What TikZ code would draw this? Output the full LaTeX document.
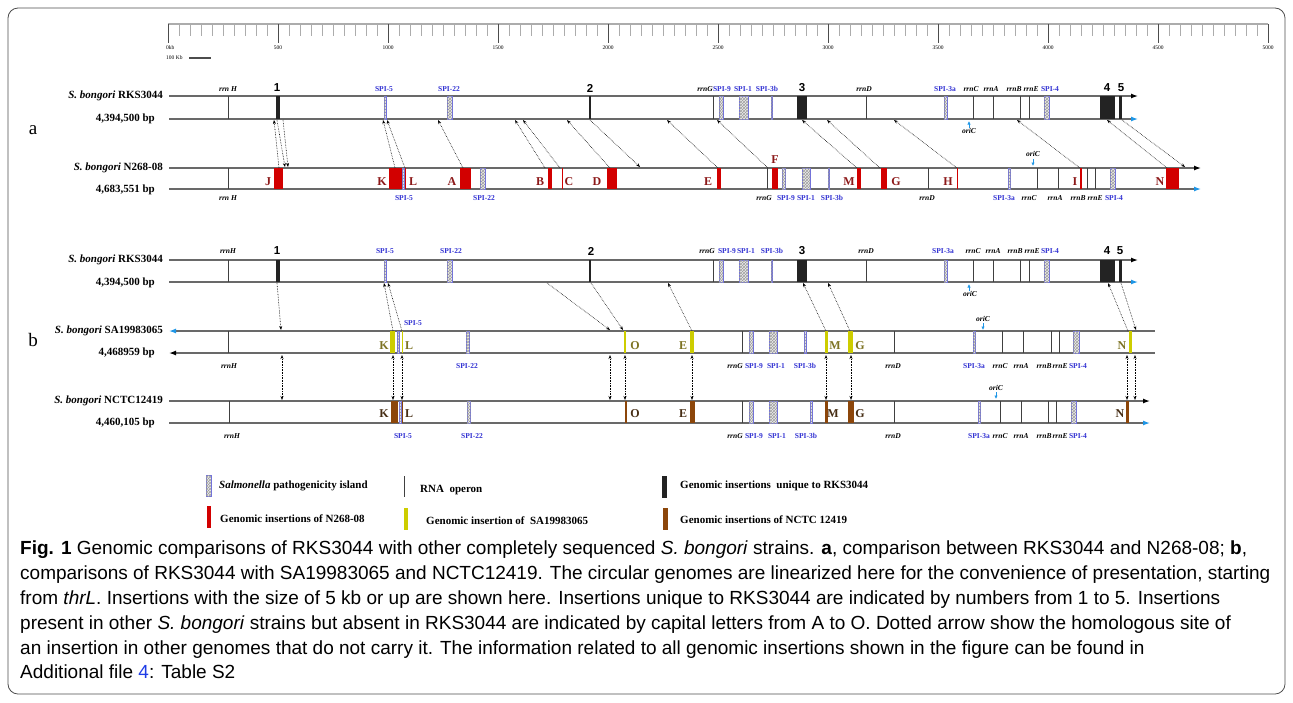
\documentclass[tikz,border=0pt]{standalone}
\usepackage{fontspec}
\setmainfont{Liberation Serif}
\setsansfont{Liberation Sans}
\newfontfamily\capfont{Liberation Sans}
\usetikzlibrary{arrows.meta,positioning,patterns}

\definecolor{trackgray}{RGB}{105,105,105}
\definecolor{oriblue}{RGB}{30,150,230}
\definecolor{spiblue}{RGB}{50,50,210}
\definecolor{insred}{RGB}{210,0,0}
\definecolor{letred}{RGB}{140,25,25}
\definecolor{insyellow}{RGB}{205,205,0}
\definecolor{letyellow}{RGB}{125,115,35}
\definecolor{insbrown}{RGB}{140,70,10}
\definecolor{letbrown}{RGB}{70,45,20}
\definecolor{insblack}{RGB}{35,35,35}
\definecolor{linkblue}{RGB}{30,60,230}

\begin{document}
\begin{tikzpicture}[x=1pt, y=-1pt,
  genome/.style={draw=trackgray, line width=1.3pt},
  rrn/.style={draw=black!75, line width=0.9pt},
  spi/.style={draw=spiblue!70, fill=gray!15, postaction={pattern=crosshatch, pattern color=gray!75}, line width=0.5pt},
  rksins/.style={fill=insblack},
  nins/.style={fill=insred},
  sains/.style={fill=insyellow},
  ncins/.style={fill=insbrown},
  rrnlab/.style={font=\fontsize{7.5}{8}\selectfont\bfseries\itshape, inner sep=0pt},
  spilab/.style={font=\fontsize{7.5}{8}\selectfont\bfseries, text=spiblue, inner sep=0pt},
  numlab/.style={font=\fontsize{11.5}{12}\selectfont\sffamily\bfseries, inner sep=0pt},
  letlab/.style={font=\fontsize{12}{12}\selectfont\bfseries, inner sep=0pt},
  strain/.style={font=\fontsize{11}{12}\selectfont\bfseries, anchor=east, inner sep=0pt},
  panel/.style={font=\fontsize{19}{20}\selectfont, inner sep=0pt},
  scalelab/.style={font=\fontsize{5.5}{6}\selectfont, inner sep=0pt},
  homarrow/.style={densely dotted, line width=0.6pt, -{Stealth[length=4pt,width=3pt]}},
  homboth/.style={densely dotted, line width=0.6pt, {Stealth[length=4pt,width=3pt]}-{Stealth[length=4pt,width=3pt]}},
  oriarrow/.style={draw=oriblue, line width=0.8pt, -{Latex[length=3.5pt,width=3.5pt]}},
  legtext/.style={font=\fontsize{11}{12}\selectfont\bfseries, anchor=west, inner sep=0pt},
]
\useasboundingbox (0,0) rectangle (1293,702);
\draw[gray!60!black, line width=0.8pt, rounded corners=10pt] (8,8) rectangle (1285,694);

% scale
\draw[gray!65, line width=1.5pt] (168,24) -- (1268,24);
\foreach \k in {0,...,100} \draw[gray!65, line width=0.6pt] ({168+11*\k},24) -- ({168+11*\k},36);
\foreach \k in {0,...,10} \draw[black!70, line width=0.8pt] ({168+110*\k},24) -- ({168+110*\k},43);
\node[scalelab, anchor=west] (sc0) at (166,48) {0kb};
\foreach \k [evaluate=\k as \v using int(500*\k)] in {1,...,10}
  \node[scalelab] (sc\k) at ({168+110*\k},48) {\v};
\node[scalelab, anchor=west] (kb100) at (166,58) {100 Kb};
\draw[black!70, line width=1.2pt] (189,58) -- (211,58);

% RKS3044 tracks
\foreach \yt/\yb in {96/119, 260/282} {
  \draw[genome, -{Latex[length=7pt,width=5pt,color=black]}] (169,\yt) -- (1138,\yt);
  \draw[genome, -{Latex[length=7pt,width=5pt,color=oriblue]}] (169,\yb) -- (1138,\yb);
  \foreach \x in {228,713,866,973,993,1020,1029} \draw[rrn] (\x,\yt) -- (\x,\yb);
  \foreach \xa/\xb in {384/385.8,447/452,719/723,739/748,771/772.5,944/947,1044/1049}
    \draw[spi] (\xa,\yt) rectangle (\xb,\yb);
  \foreach \xa/\xb in {276/279.5,589.3/591.3,797/807,1100/1115,1119/1121.8}
    \fill[rksins] (\xa,\yt) rectangle (\xb,\yb);
  \draw[oriarrow] (969,{\yb+9}) -- (969,{\yb+2});
}

% panel a
\node[panel] (pa) at (33,130) {a};
\node[strain] (rksA) at (163,96) {\textit{S. bongori} RKS3044};
\node[strain] (rksAbp) at (155,119) {4,394,500 bp};
\node[strain] (nA) at (163,168) {\textit{S. bongori} N268-08};
\node[strain] (nAbp) at (155,190) {4,683,551 bp};

\foreach \x/\t [count=\i] in {228/{rrn H},705/rrnG,864/rrnD,971/rrnC,991/rrnA,1014/rrnB,1031/rrnE}
  \node[rrnlab] (aRrn\i) at (\x,89) {\t};
\foreach \x/\t [count=\i] in {384/SPI-5,449/SPI-22,722/SPI-9,743/SPI-1,767/SPI-3b,945/SPI-3a,1050/SPI-4}
  \node[spilab] (aSpi\i) at (\x,89) {\t};
\foreach \x/\t in {277/1,590/2,802/3,1107/4,1121/5}
  \node[numlab] (aNum\t) at (\x,88) {\t};
\node[rrnlab] (aOri) at (969,131) {oriC};

% N268-08
\draw[genome, -{Latex[length=7pt,width=5pt,color=black]}] (169,168) -- (1201,168);
\draw[genome, -{Latex[length=7pt,width=5pt,color=oriblue]}] (169,189) -- (1201,189);
\foreach \x in {228,767,928,1037,1058,1087,1095} \draw[rrn] (\x,168) -- (\x,189);
\foreach \xa/\xb in {402.5/404,480/485,782/785.5,802/810,828/829.5,1008.5/1010.5,1110/1115}
  \draw[spi] (\xa,168) rectangle (\xb,189);
\foreach \xa/\xb in {274/283,389/402,404.5/406.3,460/471,548/552,561.5/563,607/617,717/721,772/778,857/861,881/887,956.5/958.3,1080/1082,1166/1179}
  \fill[nins] (\xa,168) rectangle (\xb,189);
\foreach \x/\t in {268/J,382/K,413/L,452/A,540/B,569/C,597/D,708/E,849/M,896/G,948/H,1075/I,1160/N}
  \node[letlab, text=letred] (nLet\t) at (\x,182) {\t};
\node[letlab, text=letred] (nLetF) at (775,160) {F};
\foreach \x/\t [count=\i] in {228/{rrn H},764/rrnG,927/rrnD,1029/rrnC,1055/rrnA,1078/rrnB,1095/rrnE}
  \node[rrnlab] (nRrn\i) at (\x,198) {\t};
\foreach \x/\t [count=\i] in {404/SPI-5,484/SPI-22,786/SPI-9,806/SPI-1,832/SPI-3b,1004/SPI-3a,1114/SPI-4}
  \node[spilab] (nSpi\i) at (\x,198) {\t};
\node[rrnlab] (nOri) at (1033,154) {oriC};
\draw[oriarrow] (1033,159) -- (1033,166);

% homologous sites, panel a
\foreach \xs/\xe [count=\i] in {279/274,395/383,405/387,463/438,545/515,560/523,610/567,718/667,768/717,857/802,880/827,957/894,1080/1017,1167/1107} {
  \coordinate (aLow\i) at (\xs,168);
  \coordinate (aUp\i) at (\xe,120);
  \draw[homarrow] (aLow\i) -- (aUp\i);
}
\foreach \xs/\xe [count=\i] in {277/285,283/288,590/640,1122/1185} {
  \coordinate (aFrom\i) at (\xs,120);
  \coordinate (aTo\i) at (\xe,167);
  \draw[homarrow] (aFrom\i) -- (aTo\i);
}

% panel b
\node[panel] (pb) at (33,340) {b};
\node[strain] (rksB) at (163,260) {\textit{S. bongori} RKS3044};
\node[strain] (rksBbp) at (155,283) {4,394,500 bp};
\node[strain] (saB) at (163,331) {\textit{S. bongori} SA19983065};
\node[strain] (saBbp) at (155,353) {4,468959 bp};
\node[strain] (ncB) at (163,401) {\textit{S. bongori} NCTC12419};
\node[strain] (ncBbp) at (155,423) {4,460,105 bp};

\foreach \x/\t [count=\i] in {228/rrnH,707/rrnG,866/rrnD,973/rrnC,993/rrnA,1015/rrnB,1032/rrnE}
  \node[rrnlab] (bRrn\i) at (\x,251) {\t};
\foreach \x/\t [count=\i] in {385/SPI-5,451/SPI-22,727/SPI-9,746/SPI-1,772/SPI-3b,943/SPI-3a,1050/SPI-4}
  \node[spilab] (bSpi\i) at (\x,251) {\t};
\foreach \x/\t in {277/1,591/2,802/3,1107/4,1120/5}
  \node[numlab] (bNum\t) at (\x,251) {\t};
\node[rrnlab] (bOri) at (970,294) {oriC};

% SA19983065
\draw[genome, {Latex[length=7pt,width=5pt,color=oriblue]}-] (169,331) -- (1155,331);
\draw[genome, {Latex[length=7pt,width=5pt,color=black]}-] (169,353) -- (1155,353);
\foreach \x in {228,742,894,1002,1023,1051,1059} \draw[rrn] (\x,331) -- (\x,353);
\foreach \xa/\xb in {397.5/399,466/469.5,749/753,769/777,804.5/806,973/975.5,1073/1079}
  \draw[spi] (\xa,331) rectangle (\xb,353);
\foreach \xa/\xb in {390/395,401.5/403.3,623.5/625.5,690/694,825/828,848/853,1129/1132}
  \fill[sains] (\xa,331) rectangle (\xb,353);
\foreach \x/\t in {384/K,409/L,635/O,683/E,835/M,860/G,1122/N}
  \node[letlab, text=letyellow] (saLet\t) at (\x,346) {\t};
\node[spilab] (saSpi5) at (413,323) {SPI-5};
\foreach \x/\t [count=\i] in {229/rrnH,735/rrnG,893/rrnD,1000/rrnC,1021/rrnA,1044/rrnB,1060/rrnE}
  \node[rrnlab] (saRrn\i) at (\x,366) {\t};
\foreach \x/\t [count=\i] in {467/SPI-22,754/SPI-9,776/SPI-1,805/SPI-3b,974/SPI-3a,1078/SPI-4}
  \node[spilab] (saSpi\i) at (\x,366) {\t};
\node[rrnlab] (saOri) at (983,319) {oriC};
\draw[oriarrow] (983,323) -- (983,330);

% NCTC12419
\draw[genome, -{Latex[length=7pt,width=5pt,color=black]}] (169,401) -- (1150,401);
\draw[genome, -{Latex[length=7pt,width=5pt,color=oriblue]}] (169,423) -- (1150,423);
\foreach \x in {229,742,894,1000,1021,1048,1056} \draw[rrn] (\x,401) -- (\x,423);
\foreach \xa/\xb in {399.5/401,467/470.5,749/753,769/777,810.5/812,978.5/980.5,1071/1076}
  \draw[spi] (\xa,401) rectangle (\xb,423);
\foreach \xa/\xb in {391/398,401.5/403.3,625/627,690/695,825/828,848/854,1126/1128.5}
  \fill[ncins] (\xa,401) rectangle (\xb,423);
\foreach \x/\t in {384/K,409/L,635/O,683/E,833/M,860/G,1120/N}
  \node[letlab, text=letbrown] (ncLet\t) at (\x,414) {\t};
\foreach \x/\t [count=\i] in {232/rrnH,735/rrnG,893/rrnD,1000/rrnC,1021/rrnA,1044/rrnB,1060/rrnE}
  \node[rrnlab] (ncRrn\i) at (\x,436) {\t};
\foreach \x/\t [count=\i] in {403/SPI-5,472/SPI-22,754/SPI-9,777/SPI-1,806/SPI-3b,979/SPI-3a,1078/SPI-4}
  \node[spilab] (ncSpi\i) at (\x,436) {\t};
\node[rrnlab] (ncOri) at (996,388) {oriC};
\draw[oriarrow] (996,392) -- (996,399);

% homologous sites, panel b
\foreach \xs/\xe [count=\i] in {393/384,402/388,692/668,826/803,850/828,1128/1108} {
  \coordinate (bLow\i) at (\xs,331);
  \coordinate (bUp\i) at (\xe,283);
  \draw[homarrow] (bLow\i) -- (bUp\i);
}
\foreach \xs/\xe [count=\i] in {277/281,547/610,591/623,1121/1136} {
  \coordinate (bFrom\i) at (\xs,283);
  \coordinate (bTo\i) at (\xe,330);
  \draw[homarrow] (bFrom\i) -- (bTo\i);
}
\foreach \x [count=\i] in {282,393,402,610,625,692,826,851,1127,1135} {
  \coordinate (sTop\i) at (\x,355);
  \coordinate (sBot\i) at (\x,400);
  \draw[homboth] (sTop\i) -- (sBot\i);
}

% legend
\draw[spi] (206,475) rectangle (211,496);
\node[legtext] (legSpi) at (219,486) {\textit{Salmonella} pathogenicity island};
\draw[rrn] (404,476) -- (404,497);
\node[legtext] (legRrn) at (420,490) {RNA\ \ operon};
\fill[rksins] (662,476) rectangle (667,498);
\node[legtext] (legRks) at (680,486) {Genomic insertions\ \ unique to RKS3044};
\fill[nins] (207,506) rectangle (211,528);
\node[legtext] (legN) at (220,519) {Genomic insertions of N268-08};
\fill[sains] (404,508) rectangle (408,530);
\node[legtext] (legSa) at (426,521) {Genomic insertion of\ \ SA19983065};
\fill[ncins] (663,508) rectangle (668,530);
\node[legtext] (legNc) at (680,520) {Genomic insertions of NCTC 12419};

% caption
\node[anchor=north west, align=left, inner sep=0pt, font=\capfont\fontsize{19}{24.8}\selectfont] (caption) at (20,541)
  {\textbf{Fig. 1} Genomic comparisons of RKS3044 with other completely sequenced \textit{S. bongori} strains. \textbf{a}, comparison between RKS3044 and N268-08; \textbf{b},\\
   comparisons of RKS3044 with SA19983065 and NCTC12419. The circular genomes are linearized here for the convenience of presentation, starting\\
   from \textit{thrL}. Insertions with the size of 5 kb or up are shown here. Insertions unique to RKS3044 are indicated by numbers from 1 to 5. Insertions\\
   present in other \textit{S. bongori} strains but absent in RKS3044 are indicated by capital letters from A to O. Dotted arrow show the homologous site of\\
   an insertion in other genomes that do not carry it. The information related to all genomic insertions shown in the figure can be found in\\
   Additional file \textcolor{linkblue}{4}: Table S2};
\end{tikzpicture}
\end{document}
